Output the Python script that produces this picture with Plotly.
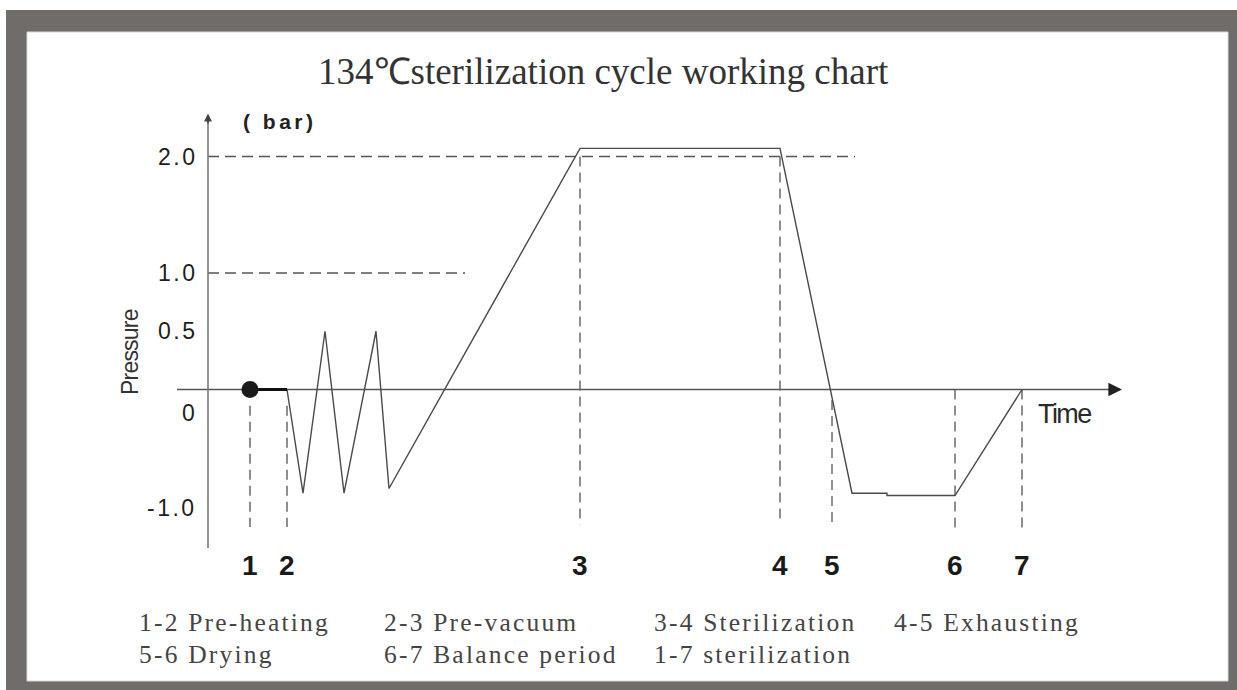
import plotly.graph_objects as go

W, H = 1237, 690

# Pressure curve of the 134 °C cycle (time in minutes, pressure in bar)
cycle_time = [0, 3.7, 5.3, 7.5, 9.4, 12.6, 13.9, 33.0, 53.0, 60.2, 63.7, 63.7, 70.5, 77.2]
cycle_pressure = [0, 0, -0.89, 0.5, -0.89, 0.5, -0.85, 2.07, 2.07, -0.89, -0.89, -0.91, -0.91, 0]

# Stage markers 1..7 and the extent of their dashed guides
stage_labels = ["1", "2", "3", "4", "5", "6", "7"]
stage_times = [0, 3.7, 33.0, 53.0, 58.2, 70.5, 77.2]
stage_guide_top = [-0.14, -0.14, 2.0, 2.0, -0.09, 0, 0]
stage_guide_bottom = [-1.18, -1.18, -1.16, -1.14, -1.16, -1.21, -1.23]

# Dashed reference pressure levels
ref_levels = [2.0, 1.0]
ref_level_end = [60.5, 21.5]

ytick_vals = [2.0, 1.0, 0.5, 0, -1.0]
ytick_text = ["2.0", "1.0", "0.5", "0", "-1.0"]

phase_legend_row1 = ["1-2 Pre-heating", "2-3 Pre-vacuum", "3-4 Sterilization", "4-5 Exhausting"]
phase_legend_row2 = ["5-6 Drying", "6-7 Balance period", "1-7 sterilization"]

title_text = "134℃sterilization cycle working chart"


def px(x):
    return x / W


def py(y):
    return 1 - y / H


def spaced(s, ls):
    return f'<span style="letter-spacing:{ls}px">{s}</span>'


AXIS_X0 = -4.2      # time where the pressure axis stands
AXIS_Y_TOP = 2.37
AXIS_Y_BOTTOM = -1.36
TIME_AXIS_START = -7.3
TIME_AXIS_END = 87.2

fig = go.Figure()

# Dashed reference levels
for lvl, end in zip(ref_levels, ref_level_end):
    fig.add_trace(go.Scatter(
        x=[AXIS_X0, end], y=[lvl, lvl], mode="lines",
        line=dict(color="#555555", width=1.5, dash="11px,6px"),
        hoverinfo="skip", showlegend=False))

# Dashed stage guides
for t, top, bot in zip(stage_times, stage_guide_top, stage_guide_bottom):
    fig.add_trace(go.Scatter(
        x=[t, t], y=[top, bot], mode="lines",
        line=dict(color="#6a6a6a", width=1.5, dash="10px,6px"),
        hoverinfo="skip", showlegend=False))

# Time axis line (zero pressure) and pressure axis line
fig.add_trace(go.Scatter(
    x=[TIME_AXIS_START, TIME_AXIS_END - 1], y=[0, 0], mode="lines",
    line=dict(color="#555555", width=1.6), hoverinfo="skip", showlegend=False))
fig.add_trace(go.Scatter(
    x=[AXIS_X0, AXIS_X0], y=[AXIS_Y_BOTTOM, AXIS_Y_TOP - 0.03], mode="lines",
    line=dict(color="#777777", width=1.6), hoverinfo="skip", showlegend=False))

# Pressure curve after pre-heating
fig.add_trace(go.Scatter(
    x=cycle_time[1:], y=cycle_pressure[1:], mode="lines",
    line=dict(color="#4a4a4a", width=1.4), hoverinfo="skip", showlegend=False))

# Pre-heating segment 1-2 with the start point
fig.add_trace(go.Scatter(
    x=cycle_time[:2], y=cycle_pressure[:2], mode="lines",
    line=dict(color="#111111", width=3), hoverinfo="skip", showlegend=False))
fig.add_trace(go.Scatter(
    x=cycle_time[:1], y=cycle_pressure[:1], mode="markers",
    marker=dict(color="#1a1a1a", size=17), hoverinfo="skip", showlegend=False))

annotations = []

# Axis arrowheads
annotations.append(dict(
    x=TIME_AXIS_END, y=0, ax=TIME_AXIS_END - 1.5, ay=0, xref="x", yref="y",
    axref="x", ayref="y", text="", showarrow=True, arrowhead=2,
    arrowsize=1.7, arrowwidth=1.6, arrowcolor="#222222"))
annotations.append(dict(
    x=AXIS_X0, y=AXIS_Y_TOP, ax=AXIS_X0, ay=AXIS_Y_TOP - 0.1, xref="x", yref="y",
    axref="x", ayref="y", text="", showarrow=True, arrowhead=2,
    arrowsize=1.0, arrowwidth=1.6, arrowcolor="#444444"))

# Title
annotations.append(dict(
    x=px(603), y=py(72), xref="paper", yref="paper", text=title_text,
    showarrow=False, xanchor="center", yanchor="middle",
    font=dict(family="Liberation Serif, Times New Roman, serif", size=37, color="#333333")))

# Pressure tick labels
tick_shift = {"0": -23, "-1.0": -2}
for v, s in zip(ytick_vals, ytick_text):
    annotations.append(dict(
        x=px(199), y=v, xref="paper", yref="y", text=spaced(s, 2.5),
        showarrow=False, xanchor="right", yanchor="middle",
        yshift=tick_shift.get(s, 0),
        font=dict(family="Liberation Sans, Arial, sans-serif", size=23, color="#1e1e1e")))

# Unit and axis names
annotations.append(dict(
    x=px(241), y=py(121), xref="paper", yref="paper", text=spaced("<b>( bar)</b>", 3.5),
    showarrow=False, xanchor="left", yanchor="middle",
    font=dict(family="Liberation Sans, Arial, sans-serif", size=21, color="#222222")))
annotations.append(dict(
    x=px(130), y=py(352), xref="paper", yref="paper", text=spaced("Pressure", -0.8),
    showarrow=False, xanchor="center", yanchor="middle", textangle=-90,
    font=dict(family="Liberation Sans Narrow, Arial Narrow, Liberation Sans, sans-serif",
              size=23, color="#333333")))
annotations.append(dict(
    x=px(1064), y=py(414), xref="paper", yref="paper", text=spaced("Time", -1.6),
    showarrow=False, xanchor="center", yanchor="middle",
    font=dict(family="Liberation Sans Narrow, Arial Narrow, Liberation Sans, sans-serif",
              size=27, color="#2a2a2a")))

# Stage numbers
for t, s in zip(stage_times, stage_labels):
    annotations.append(dict(
        x=t, y=py(565), xref="x", yref="paper", text=f"<b>{s}</b>",
        showarrow=False, xanchor="center", yanchor="middle",
        font=dict(family="Liberation Sans, Arial, sans-serif", size=28, color="#1a1a1a")))

# Phase legend
legend_cols = [137, 382, 652, 892]
for row_y, row in ((622, phase_legend_row1), (654, phase_legend_row2)):
    for xcol, s in zip(legend_cols, row):
        annotations.append(dict(
            x=px(xcol), y=py(row_y), xref="paper", yref="paper", text=spaced(s, 2.2),
            showarrow=False, xanchor="left", yanchor="middle",
            font=dict(family="Liberation Serif, Times New Roman, serif", size=25.5, color="#444444")))

# Grey frame around the chart
shapes = [
    dict(type="rect", xref="paper", yref="paper", x0=px(6), x1=1.0, y0=0.0, y1=py(10),
         fillcolor="#6f6c69", line=dict(width=0), layer="below"),
    dict(type="rect", xref="paper", yref="paper", x0=px(27), x1=px(1228), y0=py(681), y1=py(32),
         fillcolor="#ffffff", line=dict(color="#d8d8d8", width=1), layer="below"),
]

fig.update_layout(
    width=W, height=H,
    margin=dict(l=0, r=0, t=0, b=0),
    paper_bgcolor="#ffffff",
    plot_bgcolor="rgba(0,0,0,0)",
    xaxis=dict(range=[-25.0, 98.7], visible=False, fixedrange=True),
    yaxis=dict(range=[(389.5 - 690) / 116.5, 389.5 / 116.5], visible=False, fixedrange=True),
    annotations=annotations,
    shapes=shapes,
    showlegend=False,
)

fig.write_html("out.html")
